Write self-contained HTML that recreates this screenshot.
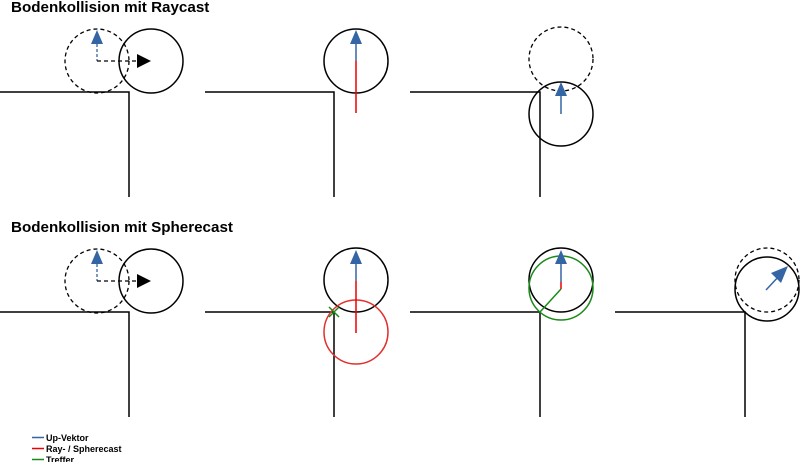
<!DOCTYPE html>
<html><head><meta charset="utf-8"><style>
html,body{margin:0;padding:0;background:#fff;}
svg{display:block;}
text{font-family:"Liberation Sans",sans-serif;font-weight:bold;fill:#000;}
</style></head><body>
<svg width="800" height="462" viewBox="0 0 800 462" xmlns="http://www.w3.org/2000/svg">
<text x="11" y="12" font-size="15.2">Bodenkollision mit Raycast</text>
<text x="11" y="232" font-size="15.2">Bodenkollision mit Spherecast</text>
<g fill="none" stroke="#000" stroke-width="1.5">
<polyline points="0,92 129,92 129,197"/>
<polyline points="205,92 334,92 334,197"/>
<polyline points="410,92 540,92 540,197"/>
<polyline points="0,312 129,312 129,417"/>
<polyline points="205,312 334,312 334,417"/>
<polyline points="410,312 540,312 540,417"/>
<polyline points="615,312 745,312 745,417"/>
</g>
<g id="p1">
<circle cx="97" cy="61" r="32" fill="none" stroke="#000" stroke-width="1.3" stroke-dasharray="4,3"/>
<circle cx="151" cy="61" r="32" fill="none" stroke="#000" stroke-width="1.5"/>
<line x1="97" y1="44" x2="97" y2="61" stroke="#3465a4" stroke-width="1.3" stroke-dasharray="3,2"/>
<line x1="97" y1="61" x2="138" y2="61" stroke="#000" stroke-width="1.3" stroke-dasharray="4,3"/>
<polygon points="97,30 91,44 103,44" fill="#3465a4"/>
<polygon points="151,61 137,54 137,68" fill="#000"/>
</g>
<use href="#p1" transform="translate(0,220)"/>
<circle cx="356" cy="61" r="32" fill="none" stroke="#000" stroke-width="1.5"/>
<line x1="356" y1="61" x2="356" y2="113" stroke="#e00" stroke-width="1.5"/>
<line x1="356" y1="44" x2="356" y2="61" stroke="#3465a4" stroke-width="1.5"/>
<polygon points="356,30 350,44 362,44" fill="#3465a4"/>
<circle cx="561" cy="59" r="32" fill="none" stroke="#000" stroke-width="1.3" stroke-dasharray="4,3"/>
<circle cx="561" cy="114" r="32" fill="none" stroke="#000" stroke-width="1.5"/>
<line x1="561" y1="95" x2="561" y2="114" stroke="#3465a4" stroke-width="1.5"/>
<polygon points="561,82 555,96 567,96" fill="#3465a4"/>
<circle cx="356" cy="280" r="32" fill="none" stroke="#000" stroke-width="1.5"/>
<circle cx="356" cy="332" r="32" fill="none" stroke="#e03030" stroke-width="1.5"/>
<line x1="356" y1="281" x2="356" y2="333" stroke="#e00" stroke-width="1.5"/>
<line x1="356" y1="263" x2="356" y2="281" stroke="#3465a4" stroke-width="1.5"/>
<polygon points="356,250 350,264 362,264" fill="#3465a4"/>
<line x1="329" y1="307" x2="339" y2="317" stroke="#1a8a1a" stroke-width="1.5"/>
<line x1="339" y1="307" x2="329" y2="317" stroke="#1a8a1a" stroke-width="1.5"/>
<circle cx="561" cy="280" r="32" fill="none" stroke="#000" stroke-width="1.5"/>
<circle cx="561" cy="288" r="32" fill="none" stroke="#1a8a1a" stroke-width="1.5"/>
<line x1="561" y1="282" x2="561" y2="289" stroke="#e00" stroke-width="1.5"/>
<line x1="561" y1="262" x2="561" y2="282" stroke="#3465a4" stroke-width="1.5"/>
<polygon points="561,250 555,264 567,264" fill="#3465a4"/>
<line x1="561" y1="289" x2="540" y2="312" stroke="#1a8a1a" stroke-width="1.5"/>
<circle cx="767" cy="280" r="32" fill="none" stroke="#000" stroke-width="1.3" stroke-dasharray="4,3"/>
<circle cx="767" cy="289" r="32" fill="none" stroke="#000" stroke-width="1.5"/>
<line x1="766" y1="290" x2="780" y2="275" stroke="#3465a4" stroke-width="1.5"/>
<polygon points="788,266 771,273 781,283" fill="#3465a4"/>
<line x1="32" y1="437.5" x2="44" y2="437.5" stroke="#3465a4" stroke-width="1.5"/>
<line x1="32" y1="448.5" x2="44" y2="448.5" stroke="#e00" stroke-width="1.5"/>
<line x1="32" y1="459.5" x2="44" y2="459.5" stroke="#1a8a1a" stroke-width="1.5"/>
<text x="46" y="441" font-size="9">Up-Vektor</text>
<text x="46" y="452" font-size="9">Ray- / Spherecast</text>
<text x="46" y="463" font-size="9">Treffer</text>
</svg>
</body></html>
